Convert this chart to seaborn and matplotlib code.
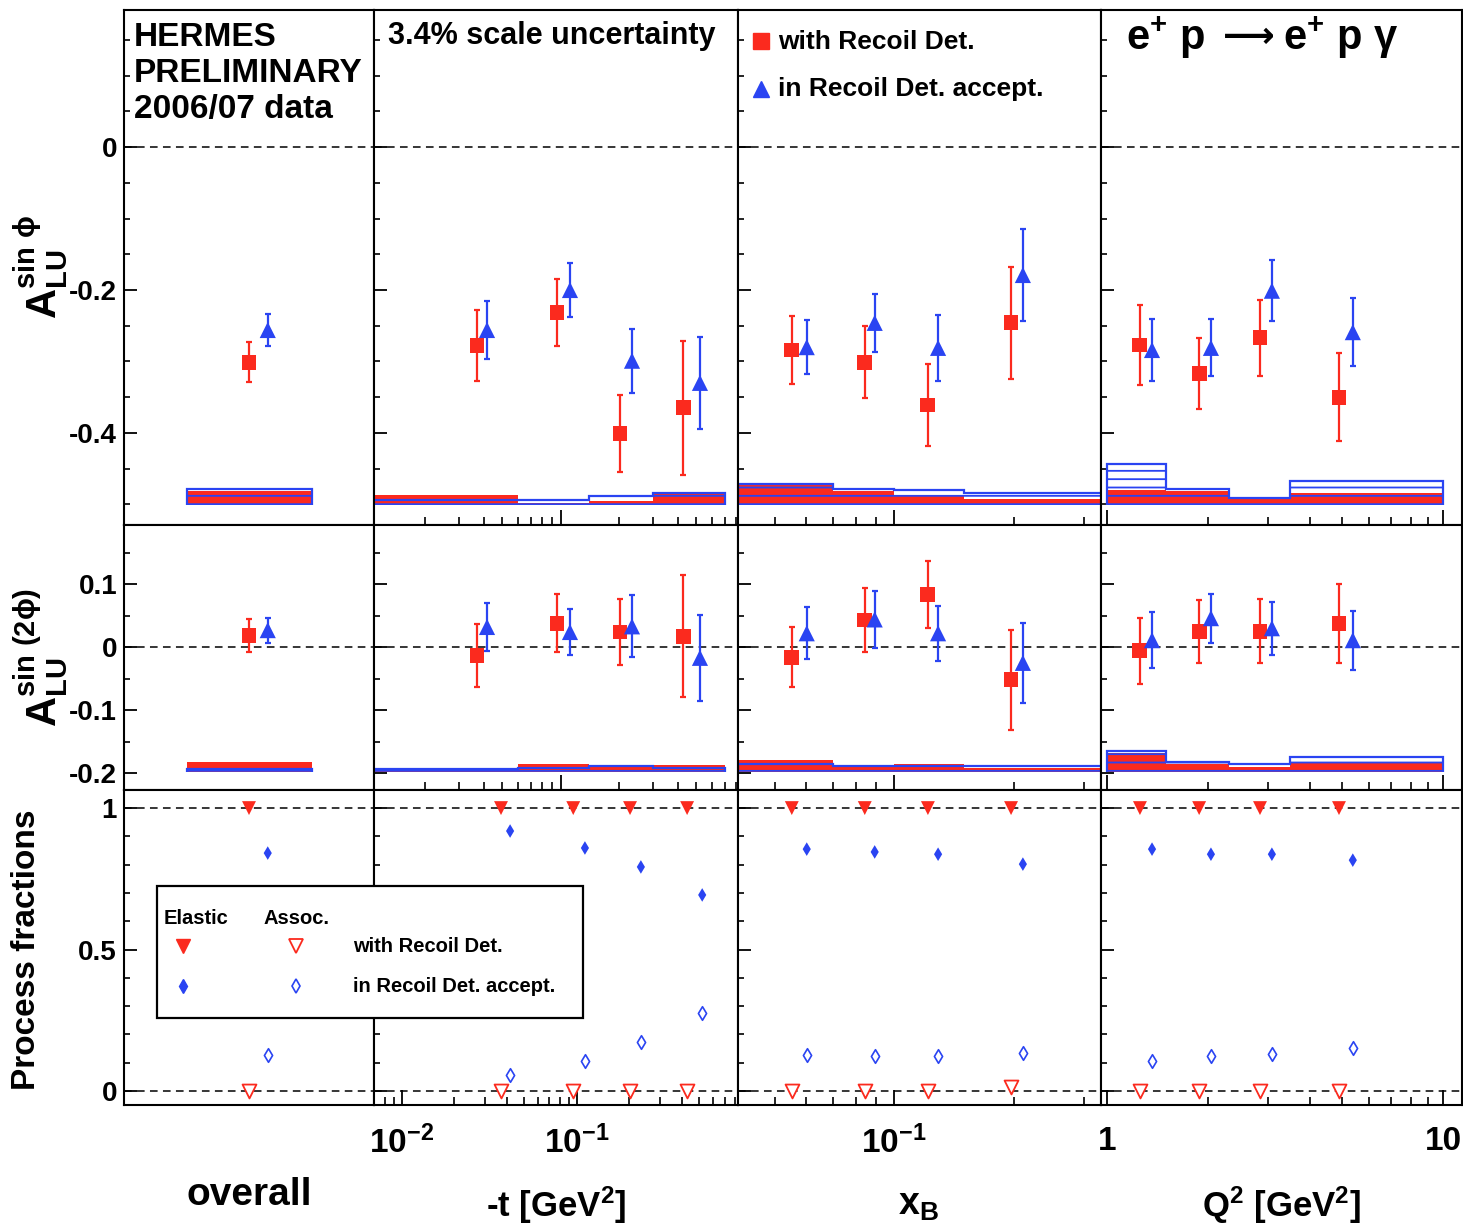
import numpy as np
import matplotlib
matplotlib.use("Agg")
import matplotlib.pyplot as plt
import seaborn as sns
from matplotlib.ticker import (FixedLocator, FixedFormatter, NullFormatter,
                               MultipleLocator, LogLocator, NullLocator, FuncFormatter)
from matplotlib.patches import Rectangle

# ---------------------------------------------------------------- data
# bin centres: red = "with Recoil Det.", blue = "in Recoil Det. accept."
overall_pos = [0.5]
overall_pos_acc = [0.575]
t_mean = [0.037, 0.0957, 0.202, 0.428]
t_mean_acc = [0.0417, 0.1116, 0.233, 0.522]
xb_mean = [0.0552, 0.0843, 0.1216, 0.197]
xb_mean_acc = [0.0602, 0.0893, 0.129, 0.211]
q2_mean = [1.251, 1.877, 2.848, 4.894]
q2_mean_acc = [1.359, 2.035, 3.09, 5.38]

# bin edges (systematic bands)
overall_edges = [0.25, 0.75]
t_edges = [0.0, 0.06, 0.14, 0.30, 0.70]
xb_edges = [0.03, 0.07, 0.10, 0.15, 0.35]
q2_edges = [1.0, 1.5, 2.3, 3.5, 10.0]

# A_LU^{sin phi}
a1_overall = [-0.301]; a1_overall_err = [0.028]
a1_overall_acc = [-0.256]; a1_overall_acc_err = [0.022]
a1_t = [-0.278, -0.232, -0.401, -0.365]; a1_t_err = [0.050, 0.047, 0.054, 0.094]
a1_t_acc = [-0.256, -0.200, -0.299, -0.330]; a1_t_acc_err = [0.040, 0.038, 0.045, 0.064]
a1_xb = [-0.284, -0.301, -0.361, -0.246]; a1_xb_err = [0.048, 0.050, 0.057, 0.078]
a1_xb_acc = [-0.280, -0.246, -0.281, -0.179]; a1_xb_acc_err = [0.038, 0.041, 0.046, 0.064]
a1_q2 = [-0.277, -0.317, -0.267, -0.350]; a1_q2_err = [0.056, 0.050, 0.053, 0.062]
a1_q2_acc = [-0.284, -0.281, -0.201, -0.259]; a1_q2_acc_err = [0.044, 0.040, 0.043, 0.048]
a1_sys_overall = [0.020]; a1_sys_overall_acc = [0.022]
a1_sys_t = [0.014, 0.003, 0.006, 0.015]; a1_sys_t_acc = [0.007, 0.007, 0.012, 0.017]
a1_sys_xb = [0.030, 0.019, 0.012, 0.008]; a1_sys_xb_acc = [0.030, 0.023, 0.021, 0.017]
a1_sys_q2 = [0.021, 0.020, 0.008, 0.017]; a1_sys_q2_acc = [0.058, 0.022, 0.0095, 0.033]

# A_LU^{sin(2phi)}
a2_overall = [0.019]; a2_overall_err = [0.026]
a2_overall_acc = [0.027]; a2_overall_acc_err = [0.020]
a2_t = [-0.014, 0.038, 0.024, 0.017]; a2_t_err = [0.050, 0.046, 0.053, 0.097]
a2_t_acc = [0.032, 0.024, 0.033, -0.017]; a2_t_acc_err = [0.038, 0.037, 0.049, 0.068]
a2_xb = [-0.016, 0.043, 0.084, -0.052]; a2_xb_err = [0.048, 0.051, 0.053, 0.079]
a2_xb_acc = [0.022, 0.044, 0.022, -0.025]; a2_xb_acc_err = [0.041, 0.045, 0.044, 0.064]
a2_q2 = [-0.006, 0.025, 0.025, 0.038]; a2_q2_err = [0.053, 0.050, 0.051, 0.063]
a2_q2_acc = [0.011, 0.046, 0.030, 0.011]; a2_q2_acc_err = [0.044, 0.039, 0.042, 0.047]
a2_sys_overall = [0.016]; a2_sys_overall_acc = [0.004]
a2_sys_t = [0.006, 0.013, 0.010, 0.011]; a2_sys_t_acc = [0.005, 0.006, 0.009, 0.006]
a2_sys_xb = [0.018, 0.009, 0.013, 0.006]; a2_sys_xb_acc = [0.013, 0.009, 0.009, 0.009]
a2_sys_q2 = [0.029, 0.013, 0.008, 0.016]; a2_sys_q2_acc = [0.033, 0.016, 0.012, 0.024]

# process fractions
fel_overall = [1.0]; fas_overall = [0.0]
fel_overall_acc = [0.841]; fas_overall_acc = [0.127]
fel_t = [1.0, 1.0, 1.0, 1.0]; fas_t = [0.0, 0.0, 0.0, 0.0]
fel_t_acc = [0.919, 0.859, 0.792, 0.693]; fas_t_acc = [0.057, 0.106, 0.173, 0.276]
fel_xb = [1.0, 1.0, 1.0, 1.0]; fas_xb = [0.0, 0.0, 0.0, 0.014]
fel_xb_acc = [0.855, 0.845, 0.837, 0.802]; fas_xb_acc = [0.127, 0.124, 0.124, 0.134]
fel_q2 = [1.0, 1.0, 1.0, 1.0]; fas_q2 = [0.0, 0.0, 0.0, 0.0]
fel_q2_acc = [0.855, 0.837, 0.837, 0.816]; fas_q2_acc = [0.106, 0.124, 0.131, 0.152]

col_titles = ["overall", "-t [GeV$^{2}$]", "$x_{B}$", "Q$^{2}$ [GeV$^{2}$]"]
x_tick_labels = [[], ["$10^{-2}$", "$10^{-1}$"], ["$10^{-1}$"], ["1", "10"]]
x_tick_values = [[], [0.01, 0.1], [0.1], [1.0, 10.0]]

# ---------------------------------------------------------------- style
sns.set_theme(style="ticks")
plt.rcParams.update({
    "font.family": ["Liberation Sans", "DejaVu Sans"],
    "font.weight": "bold",
    "mathtext.fontset": "custom",
    "mathtext.rm": "Liberation Sans:bold",
    "mathtext.bf": "Liberation Sans:bold",
    "mathtext.it": "Liberation Sans:bold:italic",
    "mathtext.sf": "Liberation Sans:bold",
    "mathtext.default": "bf",
    "axes.unicode_minus": False,
    "text.color": "black", "axes.edgecolor": "black", "axes.labelcolor": "black",
    "xtick.color": "black", "ytick.color": "black",
    "hatch.linewidth": 1.3,
    "axes.linewidth": 1.5,
})

RED = "#fb2a1e"
BLUE = "#2a44f2"

W, H = 1463, 1226
fig = plt.figure(figsize=(W / 100, H / 100), dpi=100)
col_px = [124, 374, 738, 1101, 1462]
row_px = [10, 525, 790, 1105]


def rect(c, r):
    x0, x1 = col_px[c], col_px[c + 1]
    y0, y1 = row_px[r], row_px[r + 1]
    return [x0 / W, 1 - y1 / H, (x1 - x0) / W, (y1 - y0) / H]


cols = [
    dict(log=False, xl=(0.0, 1.0), xl_bot=(0.0, 1.0), x=overall_pos, xa=overall_pos_acc, edges=overall_edges,
         a1=(a1_overall, a1_overall_err, a1_overall_acc, a1_overall_acc_err, a1_sys_overall, a1_sys_overall_acc),
         a2=(a2_overall, a2_overall_err, a2_overall_acc, a2_overall_acc_err, a2_sys_overall, a2_sys_overall_acc),
         fr=(fel_overall, fas_overall, fel_overall_acc, fas_overall_acc)),
    dict(log=True, xl=(0.0109, 0.82), xl_bot=(0.00696, 0.836), x=t_mean, xa=t_mean_acc, edges=t_edges,
         a1=(a1_t, a1_t_err, a1_t_acc, a1_t_acc_err, a1_sys_t, a1_sys_t_acc),
         a2=(a2_t, a2_t_err, a2_t_acc, a2_t_acc_err, a2_sys_t, a2_sys_t_acc),
         fr=(fel_t, fas_t, fel_t_acc, fas_t_acc)),
    dict(log=True, xl=(0.0404, 0.332), xl_bot=(0.0404, 0.332), x=xb_mean, xa=xb_mean_acc, edges=xb_edges,
         a1=(a1_xb, a1_xb_err, a1_xb_acc, a1_xb_acc_err, a1_sys_xb, a1_sys_xb_acc),
         a2=(a2_xb, a2_xb_err, a2_xb_acc, a2_xb_acc_err, a2_sys_xb, a2_sys_xb_acc),
         fr=(fel_xb, fas_xb, fel_xb_acc, fas_xb_acc)),
    dict(log=True, xl=(0.958, 11.37), xl_bot=(0.958, 11.37), x=q2_mean, xa=q2_mean_acc, edges=q2_edges,
         a1=(a1_q2, a1_q2_err, a1_q2_acc, a1_q2_acc_err, a1_sys_q2, a1_sys_q2_acc),
         a2=(a2_q2, a2_q2_err, a2_q2_acc, a2_q2_acc_err, a2_sys_q2, a2_sys_q2_acc),
         fr=(fel_q2, fas_q2, fel_q2_acc, fas_q2_acc)),
]

row_ylim = [(-0.529, 0.192), (-0.227, 0.194), (-0.0495, 1.064)]
row_major = [0.2, 0.1, 0.5]
row_minor = [0.05, 0.05, 0.1]
band_base = [-0.501, -0.198]


def yfmt(v, p):
    return f"{round(v, 6) + 0:g}"


def dashed(ax, y):
    ax.axhline(y, color="black", lw=1.1, ls=(0, (5, 3.5)), zorder=0.5)


def style_axes(ax, c, r, xl):
    ax.set_ylim(*row_ylim[r])
    if cols[c]["log"]:
        ax.set_xscale("log")
    ax.set_xlim(*xl)
    for s in ax.spines.values():
        s.set_visible(True)
        s.set_linewidth(1.5)
        s.set_color("black")
    ax.yaxis.set_major_locator(MultipleLocator(row_major[r]))
    ax.yaxis.set_minor_locator(MultipleLocator(row_minor[r]))
    ax.yaxis.set_major_formatter(FuncFormatter(yfmt))
    if c == 0:
        ax.xaxis.set_major_locator(NullLocator())
        ax.xaxis.set_minor_locator(NullLocator())
    else:
        ax.xaxis.set_major_locator(FixedLocator(x_tick_values[c]))
        ax.xaxis.set_minor_locator(LogLocator(base=10, subs=np.arange(2, 10), numticks=50))
        ax.xaxis.set_minor_formatter(NullFormatter())
        if r == 2:
            ax.xaxis.set_major_formatter(FixedFormatter(x_tick_labels[c]))
        else:
            ax.xaxis.set_major_formatter(NullFormatter())
    ax.tick_params(axis="both", which="both", direction="in", top=False, right=False,
                   left=True, bottom=True)
    ax.tick_params(axis="y", which="major", length=9, width=1.3, labelsize=20, pad=5,
                   labelleft=(c == 0))
    ax.tick_params(axis="y", which="minor", length=4.5, width=1.2)
    ax.tick_params(axis="x", which="major", length=11, width=1.3, labelsize=24, pad=15)
    ax.tick_params(axis="x", which="minor", length=5.5, width=1.2)
    ax.set_xlabel("")
    ax.set_ylabel("")
    ax.grid(False)
    ax.set_facecolor("white")


def draw_band(ax, edges, base, red_h, blue_h, xmin):
    e = np.maximum(np.array(edges, float), xmin)
    ax.stairs(base + np.array(red_h), e, baseline=base, fill=True, color=RED, lw=0, zorder=1)
    ax.stairs(base + np.array(blue_h), e, baseline=base, fill=True, facecolor="none",
              edgecolor=BLUE, hatch="--", lw=1.6, zorder=1.5)


def draw_points(ax, x, y, e, xa, ya, ea):
    ax.errorbar(x, y, yerr=e, fmt="none", ecolor=RED, elinewidth=1.6, capsize=2.5,
                capthick=1.6, zorder=2)
    ax.errorbar(xa, ya, yerr=ea, fmt="none", ecolor=BLUE, elinewidth=1.6, capsize=2.5,
                capthick=1.6, zorder=2)
    sns.scatterplot(x=x, y=y, marker="s", s=115, color=RED, edgecolor="none", ax=ax,
                    zorder=3, legend=False)
    sns.scatterplot(x=xa, y=ya, marker="^", s=135, color=BLUE, edgecolor="none", ax=ax,
                    zorder=3, legend=False)


for c, cd in enumerate(cols):
    for r in range(3):
        ax = fig.add_axes(rect(c, r))
        if r < 2:
            y, e, ya, ea, sr, sb = cd["a1"] if r == 0 else cd["a2"]
            dashed(ax, 0.0)
            draw_band(ax, cd["edges"], band_base[r], sr, sb, cd["xl"][0])
            draw_points(ax, cd["x"], y, e, cd["xa"], ya, ea)
            style_axes(ax, c, r, cd["xl"])
        else:
            fel, fas, fela, fasa = cd["fr"]
            dashed(ax, 1.0)
            dashed(ax, 0.0)
            sns.scatterplot(x=cd["x"], y=fel, marker="v", s=100, color=RED, edgecolor="none",
                            ax=ax, zorder=3, legend=False)
            sns.scatterplot(x=cd["x"], y=fas, marker="v", s=100, color=RED, facecolor="white",
                            edgecolor=RED, linewidth=1.3, ax=ax, zorder=3, legend=False)
            sns.scatterplot(x=cd["xa"], y=fela, marker="d", s=48, color=BLUE, edgecolor="none",
                            ax=ax, zorder=3, legend=False)
            sns.scatterplot(x=cd["xa"], y=fasa, marker="d", s=48, color=BLUE, facecolor="white",
                            edgecolor=BLUE, linewidth=1.2, ax=ax, zorder=3, legend=False)
            style_axes(ax, c, r, cd["xl_bot"])

# ---------------------------------------------------------------- annotations overlay (pixel coords)
ov = fig.add_axes([0, 0, 1, 1], zorder=10)
ov.set_xlim(0, W)
ov.set_ylim(H, 0)
ov.axis("off")
ov.patch.set_alpha(0)

ov.text(134, 22, "HERMES\nPRELIMINARY\n2006/07 data", fontsize=24, fontweight="bold",
        ha="left", va="top", linespacing=1.2)
ov.text(388, 36, "3.4% scale uncertainty", fontsize=22, fontweight="bold", ha="left", va="center")
ov.plot([761], [41], marker="s", ms=11, color=RED, ls="none")
ov.text(778, 42, "with Recoil Det.", fontsize=19, fontweight="bold", ha="left", va="center")
ov.plot([761], [89], marker="^", ms=12, color=BLUE, ls="none")
ov.text(778, 89, "in Recoil Det. accept.", fontsize=19, fontweight="bold", ha="left", va="center")
ov.text(1126, 38, r"e$^{+}$ p", fontsize=30, fontweight="bold", ha="left", va="center")
ov.text(1249, 37, "\u27f6", fontsize=26, family="DejaVu Sans",
        ha="center", va="center")
ov.text(1283, 38, r"e$^{+}$ p $\gamma$", fontsize=30, fontweight="bold", ha="left", va="center")

ov.text(42, 267, r"$A_{LU}^{sin\ \phi}$", fontsize=30, rotation=90, ha="center", va="center")
ov.text(42, 657, r"$A_{LU}^{sin\ (2\phi)}$", fontsize=30, rotation=90, ha="center", va="center")
ov.text(27, 950, "Process fractions", fontsize=24, fontweight="bold", rotation=90,
        ha="center", va="center")

label_pos = [(249, 1195, 28), (556, 1205, 25), (918, 1205, 27), (1282, 1205, 25)]
for (lx, ly, fs), t in zip(label_pos, col_titles):
    ov.text(lx, ly, t, fontsize=fs, fontweight="bold", ha="center", va="center")

# legend box of the process-fraction row
ov.add_patch(Rectangle((157, 886), 583 - 157, 1018 - 886, facecolor="white",
                       edgecolor="black", lw=1.6, zorder=5))
ov.text(164, 918, "Elastic", fontsize=14.5, fontweight="bold", ha="left", va="center", zorder=6)
ov.text(264, 918, "Assoc.", fontsize=14.5, fontweight="bold", ha="left", va="center", zorder=6)
ov.plot([183], [946], marker="v", ms=10, color=RED, ls="none", zorder=6)
ov.plot([296], [946], marker="v", ms=10, mfc="white", mec=RED, mew=1.3, ls="none", zorder=6)
ov.plot([183], [986], marker="d", ms=7, color=BLUE, ls="none", zorder=6)
ov.plot([296], [986], marker="d", ms=7, mfc="white", mec=BLUE, mew=1.2, ls="none", zorder=6)
ov.text(353, 947, "with Recoil Det.", fontsize=14.5, fontweight="bold", ha="left", va="center", zorder=6)
ov.text(353, 986, "in Recoil Det. accept.", fontsize=14.5, fontweight="bold", ha="left", va="center", zorder=6)

fig.savefig("out.png", dpi=100)
